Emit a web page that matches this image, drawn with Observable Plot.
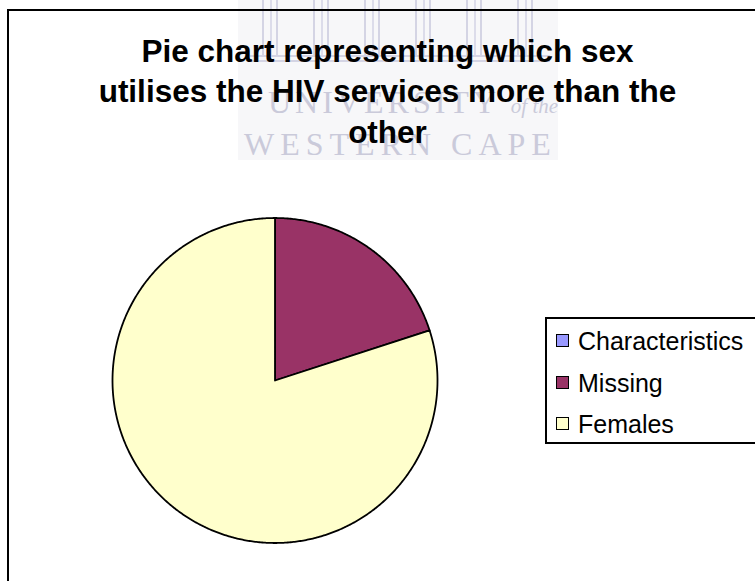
<!DOCTYPE html>
<html>
<head>
<meta charset="utf-8">
<script src="https://cdn.jsdelivr.net/npm/d3@7"></script>
<script src="https://cdn.jsdelivr.net/npm/@observablehq/plot@0.6"></script>
<style>
html, body { margin: 0; padding: 0; background: #fff; overflow: hidden; }
#wrap { position: relative; width: 755px; height: 581px; overflow: hidden; font-family: "Liberation Sans", Arial, sans-serif; }
#wrap > * { position: absolute; }
.wm { color: #cacada; font-family: "Liberation Serif", "DejaVu Serif", serif; white-space: nowrap; line-height: 1; }
.pillar { top: 0; height: 56px; width: 16px; border-left: 2px solid #d4d4e4; border-right: 2px solid #d4d4e4; box-sizing: border-box; }
.pillar::after { content: ""; position: absolute; left: 6px; top: 0; height: 56px; border-left: 2px solid #dcdcea; }
#title { left: 0; width: 775px; top: 30.6px; text-align: center; font-weight: bold; font-size: 31.5px; line-height: 40.5px; color: #000; }
#frame { left: 7px; top: 9px; width: 790px; height: 620px; border: 2px solid #000; box-sizing: border-box; }
#legend { left: 545px; top: 317px; width: 260px; height: 127px; border: 2px solid #000; box-sizing: border-box; background: #fff; }
.sw { width: 13px; height: 13px; border: 1.5px solid #000; box-sizing: border-box; }
.lt { font-size: 25px; line-height: 1; color: #000; white-space: nowrap; }
</style>
</head>
<body>
<div id="wrap"></div>
<script>
// ---- data ----
const categories = ["Characteristics", "Missing", "Females"];
const values = [0, 20, 80];
const colors = ["#9999FF", "#993366", "#FFFFCC"];
const titleLines = ["Pie chart representing which sex", "utilises the HIV services more than the", "other"];
const watermarkLines = ["UNIVERSITY", "of the", "WESTERN CAPE"];

const wrap = document.getElementById("wrap");

// ---- watermark (background decoration) ----
const tint = document.createElement("div");
Object.assign(tint.style, {left: "238px", top: "0px", width: "320px", height: "160px", background: "#f7f7f9"});
wrap.appendChild(tint);
for (let k = 0; k < 6; k++) {
  const p = document.createElement("div");
  p.className = "pillar";
  p.style.left = (262 + 51 * k) + "px";
  wrap.appendChild(p);
}
const base = document.createElement("div");
Object.assign(base.style, {left: "250px", top: "55px", width: "300px", height: "3px", borderTop: "2px solid #d4d4e4", borderBottom: "2px solid #d4d4e4"});
wrap.appendChild(base);
const wm1 = document.createElement("div");
wm1.className = "wm";
Object.assign(wm1.style, {left: "268px", top: "86px", fontSize: "32px", letterSpacing: "4px"});
wm1.innerHTML = watermarkLines[0] + ' <span style="font-style:italic;font-size:21px;letter-spacing:0">' + watermarkLines[1] + '</span>';
wrap.appendChild(wm1);
const wm2 = document.createElement("div");
wm2.className = "wm";
Object.assign(wm2.style, {left: "244px", top: "128px", fontSize: "32px", letterSpacing: "6px"});
wm2.textContent = watermarkLines[2];
wrap.appendChild(wm2);

// ---- frame ----
const frame = document.createElement("div");
frame.id = "frame";
wrap.appendChild(frame);

// ---- pie via Plot ----
const data = categories.map((c, i) => ({category: c, value: values[i]}));
const arcs = d3.pie().sort(null).value(d => d.value)(data);
const pts = [];
arcs.forEach(a => {
  const cat = a.data.category;
  pts.push({cat, x: 0, y: 0});
  const n = Math.max(2, Math.ceil((a.endAngle - a.startAngle) / (Math.PI / 360)));
  for (let i = 0; i <= n; i++) {
    const t = a.startAngle + (a.endAngle - a.startAngle) * i / n;
    pts.push({cat, x: Math.sin(t), y: Math.cos(t)});
  }
  pts.push({cat, x: 0, y: 0});
});

const chart = Plot.plot({
  width: 755,
  height: 581,
  marginLeft: 112,
  marginRight: 318,
  marginTop: 217.5,
  marginBottom: 38.5,
  x: {domain: [-1, 1], axis: null},
  y: {domain: [-1, 1], axis: null},
  color: {domain: categories, range: colors},
  style: {background: "transparent", overflow: "visible"},
  marks: [
    Plot.line(pts, {x: "x", y: "y", z: "cat", fill: "cat", stroke: "#000", strokeWidth: 1.8, strokeLinejoin: "round", curve: "linear"})
  ]
});
chart.style.left = "0px";
chart.style.top = "0px";
wrap.appendChild(chart);

// ---- title ----
const title = document.createElement("div");
title.id = "title";
title.innerHTML = titleLines.join("<br>");
wrap.appendChild(title);

// ---- legend ----
const legend = document.createElement("div");
legend.id = "legend";
wrap.appendChild(legend);
categories.forEach((c, i) => {
  const sw = document.createElement("div");
  sw.className = "sw";
  Object.assign(sw.style, {left: "556px", top: (334 + 41.5 * i) + "px", background: colors[i]});
  wrap.appendChild(sw);
  const t = document.createElement("div");
  t.className = "lt";
  Object.assign(t.style, {left: "578px", top: (329 + 41.5 * i) + "px"});
  t.textContent = c;
  wrap.appendChild(t);
});
</script>
</body>
</html>
